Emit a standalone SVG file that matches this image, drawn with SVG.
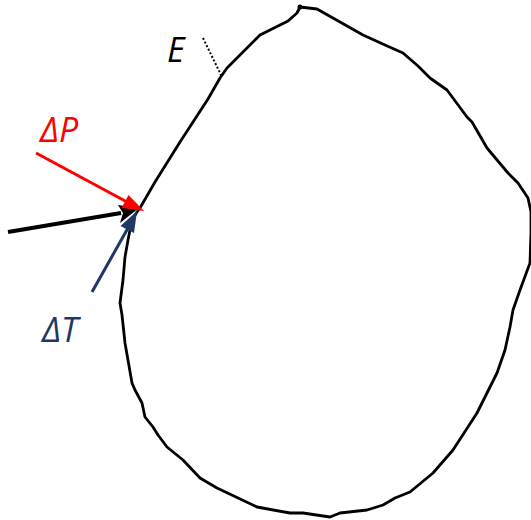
<svg xmlns="http://www.w3.org/2000/svg" width="531" height="520" viewBox="0 0 531 520">
<style>
.outline{fill:none;stroke:#000;stroke-width:2.8;stroke-linejoin:round;stroke-linecap:round}
.lbl{font-family:"Open Sans","Liberation Sans",sans-serif;font-style:italic;font-size:34px}
</style>
<rect width="531" height="520" fill="#fff"/>
<g id="body">
<path class="outline" d="M140,208 L155,182 L180,142 L208,99 L220,78 L227,68 L245,50 L260,35 L288,21 L297,13 L300,7 L317,9 L340,22 L363,35 L385,45 L403,53 L418,66 L430,78 L447,90 L467,117 L472,122 L487,148 L508,173 L518,183 L528,198 L531,212 L531,232 L530,263 L520,290 L513,310 L510,327 L505,350 L497,373 L477,413 L453,450 L433,473 L410,492 L395,498 L383,505 L367,510 L340,513 L330,517 L303,513 L290,513 L257,507 L217,488 L200,478 L183,460 L167,447 L158,435 L153,427 L145,417 L142,403 L135,390 L132,383 L125,343 L122,315 L120,303 L123,280 L125,257 L128,240 L132,220 L137,212 Z"/>
<circle cx="300" cy="7" r="2.5" fill="#000"/>
</g>
<g id="connectors">
<line x1="203" y1="38" x2="222" y2="77" stroke="#000" stroke-width="2" stroke-dasharray="2,2"/>
<line x1="8" y1="232" x2="121" y2="213" stroke="#000" stroke-width="4"/>
<polygon points="139,208 118,205 123,213 120,223" fill="#000"/>
<line x1="36" y1="153" x2="127" y2="202" stroke="#ff0000" stroke-width="3"/>
<polygon points="144,211 121.5,208 128.5,195" fill="#ff0000"/>
<line x1="92" y1="292" x2="128" y2="228" stroke="#1f3864" stroke-width="3"/>
<polygon points="137,211 134,233 120.5,226" fill="#1f3864"/>
</g>
<g id="labels">
<text class="lbl" x="40" y="142" fill="#ff0000">ΔP</text>
<text class="lbl" x="42" y="342" fill="#1f3864">ΔT</text>
<text class="lbl" x="167" y="62" fill="#000">E</text>
</g>
</svg>
